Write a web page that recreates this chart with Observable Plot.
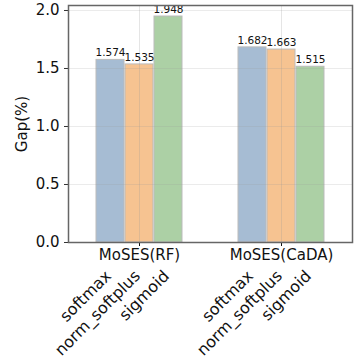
<!DOCTYPE html>
<html><head><meta charset="utf-8">
<script src="https://cdn.jsdelivr.net/npm/d3@7"></script>
<script src="https://cdn.jsdelivr.net/npm/@observablehq/plot@0.6"></script>
<style>body{margin:0;background:white}</style>
</head><body><div id="chart"></div>
<script>
const groups = ["MoSES(RF)", "MoSES(CaDA)"];
const methods = ["softmax", "norm_softplus", "sigmoid"];
const rfValues = [1.574, 1.535, 1.948];
const cadaValues = [1.682, 1.663, 1.515];
const colors = ["#a6bcd3", "#f6c391", "#acd0a5"];
const yTicks = [0, 0.5, 1.0, 1.5, 2.0];

const series = [rfValues, cadaValues];
const data = groups.flatMap((g, i) => methods.map((m, j) => ({group: g, method: m, value: series[i][j]})));

const chart = Plot.plot({
  width: 357, height: 357,
  marginLeft: 68, marginRight: 5, marginTop: 5, marginBottom: 115,
  style: {fontFamily: "DejaVu Sans", fontSize: "15px", color: "#111", background: "white", overflow: "visible"},
  fx: {domain: groups, padding: 0, label: null},
  x: {domain: methods, paddingInner: 0.03, paddingOuter: 0.95, label: null},
  y: {domain: [0, 2.043], label: null},
  color: {domain: methods, range: colors},
  marks: [
    Plot.barY(data, {fx: "group", x: "method", y: "value", fill: "method", stroke: "#bbb", strokeWidth: 1}),
    Plot.gridY(yTicks, {stroke: "#999", strokeOpacity: 0.2}),
    Plot.gridFx({stroke: "#999", strokeOpacity: 0.25}),
    Plot.text(data, {fx: "group", x: "method", y: "value", text: d => d.value.toFixed(3), dy: -7, fontSize: 10.5, fill: "#111"}),
    Plot.axisY(yTicks, {tickFormat: d => d.toFixed(1), fontSize: 15, tickSize: 4, stroke: "#333", label: "Gap(%)", labelAnchor: "center", labelArrow: "none", labelOffset: 52}),
    Plot.axisFx({anchor: "bottom", tickSize: 4, fontSize: 15, tickPadding: 3, label: null}),
    Plot.axisX({anchor: "bottom", tickSize: 0, tickRotate: -45, fontSize: 16, dy: 19, dx: -2, label: null}),
    Plot.frame({facet: "super", stroke: "#666", strokeWidth: 1.5})
  ]
});
document.getElementById("chart").appendChild(chart);
</script></body></html>
